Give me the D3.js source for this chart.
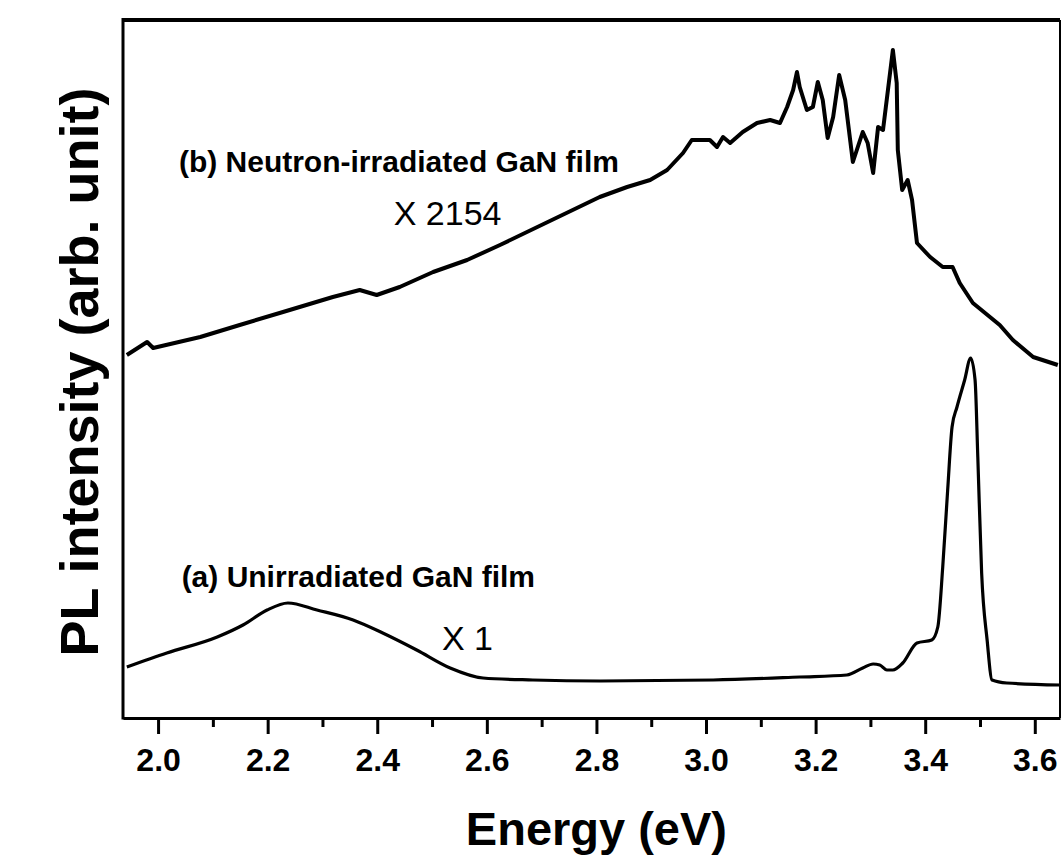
<!DOCTYPE html>
<html>
<head>
<meta charset="utf-8">
<script src="https://cdn.jsdelivr.net/npm/d3@7"></script>
<style>
  html, body { margin: 0; padding: 0; background: #fff; }
  svg { display: block; font-family: "Liberation Sans", Arial, sans-serif; }
</style>
</head>
<body>
<div id="chart"></div>
<script>
// PL spectra of GaN films (intensity in arbitrary units)

// (a) unirradiated film, x 1
const energyA = [1.943, 2.016, 2.108, 2.155, 2.199, 2.237, 2.290, 2.356, 2.410, 2.472, 2.533, 2.593, 2.684, 2.806, 3.013, 3.171, 3.257, 3.286, 3.305, 3.317, 3.330, 3.341, 3.359, 3.385, 3.412, 3.423, 3.432, 3.441, 3.449, 3.458, 3.472, 3.483, 3.491, 3.496, 3.503, 3.513, 3.522, 3.549, 3.646];
const intensityA = [51, 65, 81, 93, 108, 115, 108, 98, 85, 68, 50, 40, 38, 37, 38, 41, 43, 50, 54, 53, 48, 48, 55, 75, 78, 91, 151, 228, 291, 311, 338, 360, 338, 261, 145, 78, 38, 35, 33];

// (b) neutron-irradiated film, x 2154
const energyB = [1.943, 1.980, 1.991, 2.077, 2.149, 2.228, 2.319, 2.368, 2.399, 2.441, 2.502, 2.564, 2.624, 2.806, 2.856, 2.898, 2.929, 2.958, 2.974, 3.007, 3.020, 3.031, 3.044, 3.067, 3.093, 3.117, 3.135, 3.148, 3.159, 3.166, 3.171, 3.184, 3.195, 3.204, 3.213, 3.222, 3.232, 3.243, 3.254, 3.268, 3.286, 3.295, 3.305, 3.314, 3.323, 3.332, 3.341, 3.348, 3.350, 3.358, 3.368, 3.376, 3.385, 3.409, 3.432, 3.450, 3.463, 3.487, 3.536, 3.560, 3.597, 3.642];
const intensityB = [363, 376, 370, 381, 393, 406, 421, 428, 423, 431, 446, 458, 473, 521, 531, 538, 548, 565, 578, 578, 571, 581, 575, 586, 595, 598, 595, 611, 628, 646, 631, 608, 611, 636, 618, 580, 601, 643, 618, 556, 586, 575, 545, 591, 588, 628, 668, 635, 568, 528, 538, 518, 475, 461, 451, 451, 435, 415, 393, 378, 361, 353];

const majorTicks = [2.0, 2.2, 2.4, 2.6, 2.8, 3.0, 3.2, 3.4, 3.6];
const minorTicks = [2.1, 2.3, 2.5, 2.7, 2.9, 3.1, 3.3, 3.5];

const curveLabels = [
  { text: '(b) Neutron-irradiated GaN film', e: 2.038, v: 546, bold: true, size: 30 },
  { text: 'X 2154', e: 2.430, v: 493, bold: false, size: 34 },
  { text: '(a) Unirradiated GaN film', e: 2.043, v: 131, bold: true, size: 30 },
  { text: 'X 1', e: 2.518, v: 68, bold: false, size: 34 }
];

const width = 1062, height = 856;
const margin = { top: 20, right: 2, bottom: 138, left: 123 };
const innerW = width - margin.left - margin.right;
const innerH = height - margin.top - margin.bottom;

const svg = d3.select('#chart').append('svg')
  .attr('width', width)
  .attr('height', height);

const g = svg.append('g').attr('transform', `translate(${margin.left},${margin.top})`);

const x = d3.scaleLinear().domain([1.936, 3.646]).range([0, innerW]);
const y = d3.scaleLinear().domain([0, 698]).range([innerH, 0]);

// spectra
const line = d3.line().x(d => x(d[0])).y(d => y(d[1]));
const seriesA = energyA.map((e, i) => [e, intensityA[i]]);
const seriesB = energyB.map((e, i) => [e, intensityB[i]]);

g.append('path').datum(seriesA)
  .attr('d', line.curve(d3.curveMonotoneX))
  .attr('fill', 'none').attr('stroke', '#000')
  .attr('stroke-width', 3.2).attr('stroke-linejoin', 'round');

g.append('path').datum(seriesB)
  .attr('d', line.curve(d3.curveLinear))
  .attr('fill', 'none').attr('stroke', '#000')
  .attr('stroke-width', 4).attr('stroke-linejoin', 'round');

// frame
g.append('line').attr('x1', 0).attr('x2', innerW).attr('y1', 0).attr('y2', 0)
  .attr('stroke', '#000').attr('stroke-width', 4);
g.append('line').attr('x1', innerW).attr('x2', innerW).attr('y1', 0).attr('y2', innerH)
  .attr('stroke', '#000').attr('stroke-width', 2);
g.append('line').attr('x1', 0).attr('x2', 0).attr('y1', -2).attr('y2', innerH + 1.5)
  .attr('stroke', '#000').attr('stroke-width', 3);

// x axis with major and minor ticks
const xAxis = g.append('g')
  .attr('class', 'x-axis')
  .attr('transform', `translate(0,${innerH})`)
  .call(d3.axisBottom(x).tickValues(majorTicks).tickSize(16).tickSizeOuter(0).tickPadding(14).tickFormat(d3.format('.1f')));

xAxis.select('.domain').attr('stroke-width', 3);
xAxis.selectAll('.tick line').attr('stroke-width', 3);
xAxis.selectAll('.tick text')
  .attr('font-size', 32).attr('font-weight', 'bold').attr('fill', '#000')
  .attr('font-family', '"Liberation Sans", Arial, sans-serif');

const minor = g.append('g')
  .attr('transform', `translate(0,${innerH})`)
  .call(d3.axisBottom(x).tickValues(minorTicks).tickSize(9).tickSizeOuter(0).tickFormat(''));
minor.select('.domain').remove();
minor.selectAll('.tick line').attr('stroke-width', 3);

// axis titles
svg.append('text')
  .attr('x', margin.left + x(2.8)).attr('y', 845)
  .attr('text-anchor', 'middle')
  .attr('font-size', 47).attr('font-weight', 'bold')
  .text('Energy (eV)');

svg.append('text')
  .attr('transform', 'translate(98,372) rotate(-90)')
  .attr('text-anchor', 'middle')
  .attr('font-size', 54).attr('font-weight', 'bold')
  .text('PL intensity (arb. unit)');

// curve labels
g.selectAll('text.curve-label')
  .data(curveLabels)
  .join('text')
  .attr('class', 'curve-label')
  .attr('x', d => x(d.e))
  .attr('y', d => y(d.v))
  .attr('font-size', d => d.size)
  .attr('font-weight', d => d.bold ? 'bold' : 'normal')
  .text(d => d.text);
</script>
</body>
</html>
